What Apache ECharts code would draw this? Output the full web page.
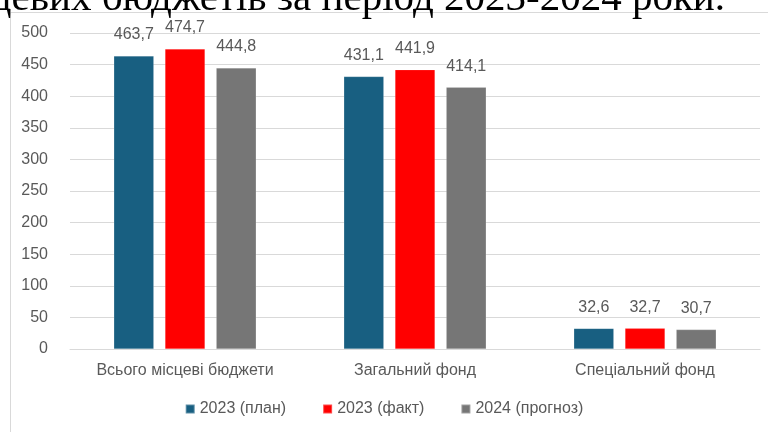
<!DOCTYPE html>
<html><head><meta charset="utf-8">
<script src="https://cdn.jsdelivr.net/npm/echarts@6/dist/echarts.min.js"></script>
<style>html,body{margin:0;padding:0;background:#fff}#c{width:768px;height:432px}</style>
</head><body><div id="c"></div>
<script>
const categories = ['Всього місцеві бюджети', 'Загальний фонд', 'Спеціальний фонд'];
const seriesNames = ['2023 (план)', '2023 (факт)', '2024 (прогноз)'];
const plan2023 = [463.7, 431.1, 32.6];
const fact2023 = [474.7, 441.9, 32.7];
const forecast2024 = [444.8, 414.1, 30.7];
const colors = ['#185f81', '#ff0000', '#767676'];
const FONT = '"Liberation Sans Narrow", "Arial Narrow", "Liberation Sans", sans-serif';

const chart = echarts.init(document.getElementById('c'));
const lbl = {show: true, position: 'top', distance: 13, color: '#595959', fontSize: 16, fontFamily: FONT,
  formatter: p => p.value.toFixed(1).replace('.', ',')};
const mk = (name, data, i) => ({name, type: 'bar', data, barWidth: 40, barGap: '28%',
  itemStyle: {color: colors[i], borderColor: 'rgba(255,255,255,0.3)', borderWidth: 0.5}, label: lbl});
chart.setOption({
  animation: false,
  color: colors,
  graphic: [
    {type: 'rect', shape: {x: 10.5, y: 12.5, width: 800, height: 500}, style: {fill: 'none', stroke: '#d9d9d9', lineWidth: 1}, z: -1},
    {type: 'text', x: 725, y: 20, style: {text: 'Обсяг доходів місцевих бюджетів за період 2023-2024 роки.', align: 'right', verticalAlign: 'bottom',
      font: '41px "Liberation Serif", "Times New Roman", serif', fill: '#000'}}
  ],
  grid: {left: 70, right: 8, top: 33, bottom: 83, containLabel: false},
  legend: {bottom: 10, left: 'center', itemWidth: 9, itemHeight: 9, itemGap: 36, icon: 'rect',
    textStyle: {color: '#595959', fontSize: 16, fontFamily: FONT}, data: seriesNames},
  xAxis: {type: 'category', data: categories,
    axisLine: {lineStyle: {color: '#d9d9d9'}}, axisTick: {show: false},
    axisLabel: {interval: 0, hideOverlap: false, color: '#595959', fontSize: 16, fontFamily: FONT, margin: 14}},
  yAxis: {type: 'value', min: 0, max: 500, interval: 50,
    axisLine: {show: false}, axisTick: {show: false},
    splitLine: {lineStyle: {color: '#d9d9d9'}},
    axisLabel: {color: '#595959', fontSize: 16, fontFamily: FONT, margin: 22}},
  series: [mk(seriesNames[0], plan2023, 0), mk(seriesNames[1], fact2023, 1), mk(seriesNames[2], forecast2024, 2)]
});
</script></body></html>
